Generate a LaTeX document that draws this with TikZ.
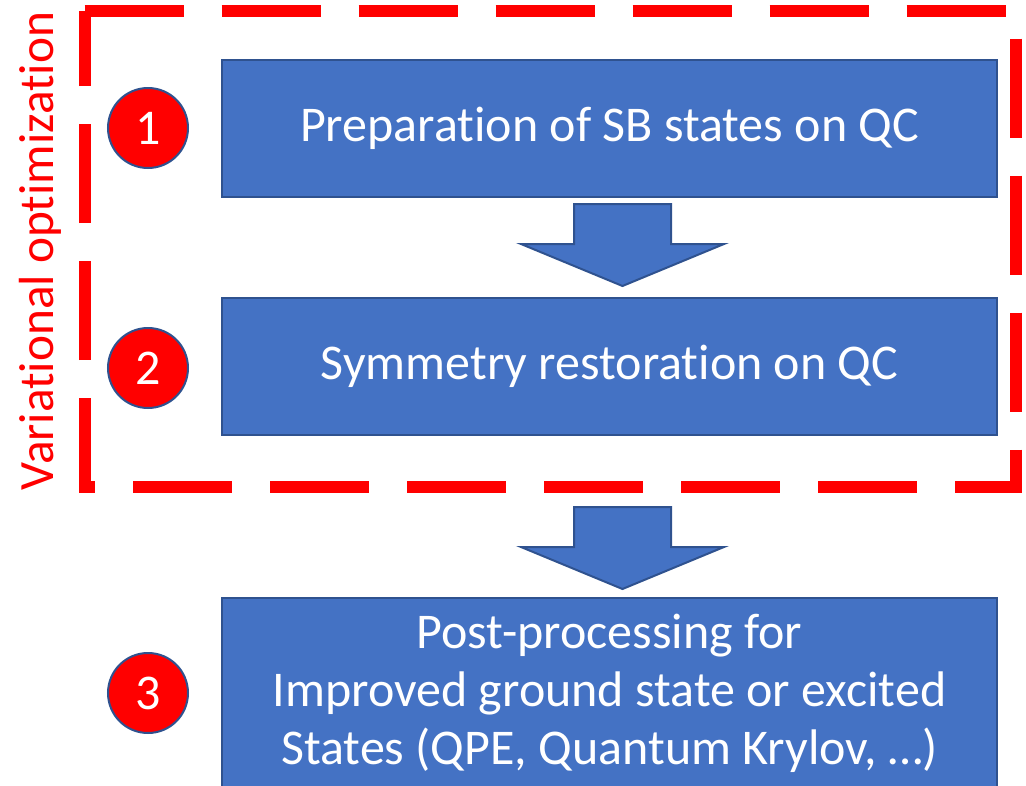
\documentclass[tikz,border=0pt]{standalone}
\usepackage{fontspec}
\setmainfont[RawFeature=-liga]{Carlito}
\definecolor{boxblue}{HTML}{4472C4}
\definecolor{edgeblue}{HTML}{2F528F}
\definecolor{pptred}{HTML}{FF0000}
\begin{document}
\begin{tikzpicture}[x=0.75pt,y=-0.75pt,
  stepbox/.style={draw=edgeblue, line width=1.5pt, fill=boxblue, text=white,
    minimum width=581.25pt, minimum height=102.75pt, inner sep=0pt,
    font=\fontsize{37.5}{43.5}\selectfont, align=center},
  numcirc/.style={circle, draw=edgeblue, line width=1.5pt, fill=pptred, text=white,
    minimum size=60pt, inner sep=0pt, font=\fontsize{37.5}{43.5}\selectfont},
  arrowshape/.style={draw=edgeblue, line width=1.5pt, fill=boxblue, line join=miter},
  downarrow/.pic={\draw[arrowshape] (-48.5,0) -- (48.5,0) -- (48.5,40) -- (101.5,40)
     -- (0,82) -- (-101.5,40) -- (-48.5,40) -- cycle;},
  vframe/.style={draw=pptred, line width=9pt, line cap=butt, line join=miter,
    dash pattern=on 74.25pt off 28.5pt}
]
\useasboundingbox (0,0) rectangle (1026,786);
\clip (0,0) rectangle (1026,786);
% dashed frame
\coordinate (ftl) at (84.5,11);
\coordinate (ftr) at (1016,11);
\coordinate (fbr) at (1016,487);
\coordinate (fbl) at (84.5,487);
\draw[vframe] (ftl) -- (ftr) -- (fbr) -- (fbl) -- cycle;
% label
\node[rotate=90, text=pptred, inner sep=0pt, font=\fontsize{37}{40}\selectfont] (vo) at (40,251) {Variational optimization};
% boxes
\node[stepbox] (b1) at (609.5,128.5) {Preparation of SB states on QC};
\node[stepbox] (b2) at (609.5,366) {Symmetry restoration on QC};
\node[stepbox, minimum height=143pt] (b3) at (609.5,693) {Post-processing for\\Improved ground state or excited\\States (QPE, Quantum Krylov, \dots)};
% circles
\node[numcirc] (c1) at (148,128) {1};
\node[numcirc] (c2) at (148,368) {2};
\node[numcirc] (c3) at (148,693) {3};
% block arrows
\pic at (622.5,204) {downarrow};
\pic at (622.5,507) {downarrow};
\end{tikzpicture}
\end{document}
